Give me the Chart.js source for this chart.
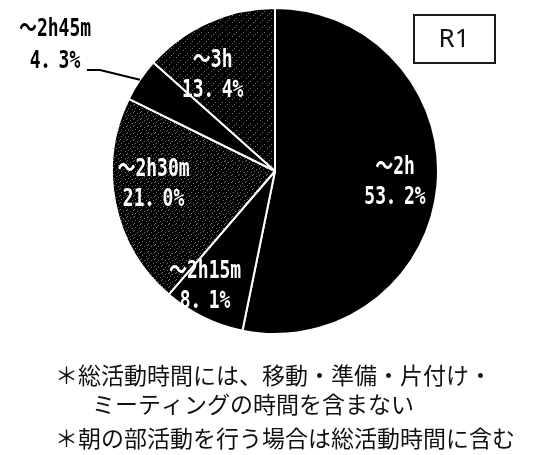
<!DOCTYPE html>
<html>
<head>
<meta charset="utf-8">
<script src="https://cdn.jsdelivr.net/npm/chart.js"></script>
<style>
  html, body { margin: 0; padding: 0; background: #fff; }
  #wrap { width: 545px; height: 455px; }
</style>
</head>
<body>
<div id="wrap"><canvas id="pieChart" width="545" height="455"></canvas></div>
<script>
const categories = ['～2h', '～2h15m', '～2h30m', '～2h45m', '～3h'];
const shares = [53.2, 8.1, 21.0, 4.3, 13.4];
const notes = [
    '＊総活動時間には、移動・準備・片付け・',
    'ミーティングの時間を含まない',
    '＊朝の部活動を行う場合は総活動時間に含む'
];
const badge = 'R1';

// where each label sits inside its slice (fraction of radius, angle nudge in degrees)
const labelRadius = [0.74, 0.83, 0.75, null, 0.70];
const labelShift = [0, 5, 5, 0, -9];

function stipple(dots) {
    const c = document.createElement('canvas');
    c.width = 7; c.height = 7;
    const g = c.getContext('2d');
    g.fillStyle = '#000';
    g.fillRect(0, 0, 7, 7);
    g.fillStyle = '#6e6e6e';
    dots.forEach(([x, y]) => g.fillRect(x, y, 1, 1));
    return g.createPattern(c, 'repeat');
}

function fmtShare(v) {
    return v.toFixed(1).replace('.', '．') + '%';
}

function drawLabel(ctx, lines, cx, cy, color, gap) {
    const sy = 1.35;
    ctx.save();
    ctx.fillStyle = color;
    ctx.font = 'bold 18px "DejaVu Sans Mono", "Noto Sans CJK JP", monospace';
    ctx.textAlign = 'center';
    ctx.textBaseline = 'middle';
    ctx.translate(cx, cy);
    ctx.scale(1, sy);
    lines.forEach((t, k) => {
        const off = (k - (lines.length - 1) / 2) * gap;
        ctx.fillText(t, 0, off / sy);
    });
    ctx.restore();
}

const sliceLabels = {
    id: 'sliceLabels',
    afterDatasetsDraw(chart) {
        const ctx = chart.ctx;
        const arcs = chart.getDatasetMeta(0).data;
        arcs.forEach((arc, i) => {
            const p = arc.getProps(['x', 'y', 'startAngle', 'endAngle', 'outerRadius'], true);
            const mid = (p.startAngle + p.endAngle) / 2;
            const lines = [categories[i], fmtShare(shares[i])];
            if (labelRadius[i] === null) {
                // outside label with a leader line
                drawLabel(ctx, lines, 55, 46, '#000', 32);
                ctx.save();
                ctx.strokeStyle = '#000';
                ctx.lineWidth = 2;
                ctx.beginPath();
                ctx.moveTo(87, 70);
                ctx.lineTo(100, 70);
                ctx.lineTo(p.x + p.outerRadius * Math.cos(mid), p.y + p.outerRadius * Math.sin(mid));
                ctx.stroke();
                ctx.restore();
            } else {
                const a = mid + labelShift[i] * Math.PI / 180;
                const r = p.outerRadius * labelRadius[i];
                drawLabel(ctx, lines, p.x + r * Math.cos(a), p.y + r * Math.sin(a), '#fff', 30);
            }
        });
    },
    afterDraw(chart) {
        const ctx = chart.ctx;
        ctx.save();
        // badge box
        ctx.strokeStyle = '#1a1a1a';
        ctx.lineWidth = 2;
        ctx.strokeRect(414, 15, 81, 48);
        ctx.fillStyle = '#111';
        ctx.font = '26px "Noto Sans", sans-serif';
        ctx.textAlign = 'center';
        ctx.textBaseline = 'middle';
        ctx.fillText(badge, 454, 40);
        // footnotes
        ctx.font = '23px "Noto Sans CJK JP", sans-serif';
        ctx.textAlign = 'left';
        ctx.fillText(notes[0], 55, 375);
        ctx.fillText(notes[1], 92, 404);
        ctx.fillText(notes[2], 55, 438);
        ctx.restore();
    }
};

document.addEventListener('DOMContentLoaded', function () {
    const ctx = document.getElementById('pieChart').getContext('2d');
    const dense = stipple([[0, 0], [4, 1], [2, 3], [6, 4], [1, 6]]);
    const sparse = stipple([[1, 1], [5, 4], [3, 6]]);
    const fills = ['#000', '#000', dense, '#000', sparse];

    new Chart(ctx, {
        type: 'pie',
        data: {
            labels: categories,
            datasets: [{
                data: shares,
                backgroundColor: fills,
                borderColor: '#fff',
                borderWidth: 2
            }]
        },
        options: {
            responsive: false,
            animation: false,
            layout: {
                padding: { top: 7, bottom: 120, left: 111, right: 106 }
            },
            plugins: {
                legend: { display: false },
                tooltip: { enabled: false }
            }
        },
        plugins: [sliceLabels]
    });
});
</script>
</body>
</html>
